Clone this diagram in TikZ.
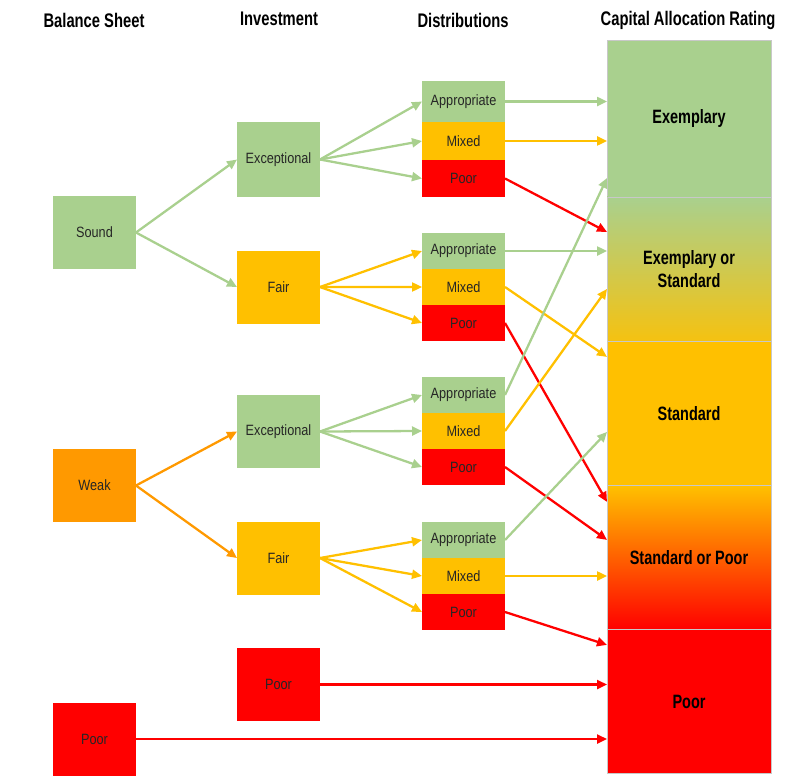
\documentclass[tikz,border=0pt]{standalone}
\usepackage{fontspec}
\setmainfont{Liberation Sans}
\newfontfamily\boxfont{Liberation Sans}[FakeStretch=0.85]
\newfontfamily\headfont{Liberation Sans}[FakeStretch=0.75]
\usetikzlibrary{arrows.meta,positioning}
\definecolor{cGreen}{HTML}{A9D08E}
\definecolor{cYellow}{HTML}{FFC000}
\definecolor{cOrange}{HTML}{FF9900}
\definecolor{cRed}{HTML}{FF0000}
\definecolor{cMid}{HTML}{FF5A00}
\definecolor{cText}{HTML}{262626}
\definecolor{cEdge}{HTML}{C8C8C8}

\begin{document}
\begin{tikzpicture}[x=0.02cm,y=-0.02cm,
  box/.style={inner sep=0pt,outer sep=0pt,minimum width=1.66cm,minimum height=1.46cm,font=\boxfont\fontsize{8.5}{10}\selectfont,text=cText},
  dist/.style={box,minimum height=0.72cm},
  rating/.style={draw=cEdge,line width=0.5pt,inner sep=0pt,outer sep=0pt,minimum width=3.28cm,minimum height=2.88cm,align=center,font=\headfont\bfseries\fontsize{11}{13}\selectfont},
  head/.style={font=\headfont\bfseries\fontsize{11.2}{13}\selectfont},
  arr/.style={-{Triangle[length=2mm,width=1.8mm]},line width=1.3pt},
  garr/.style={arr,cGreen},
  yarr/.style={arr,cYellow},
  oarr/.style={arr,cOrange},
  rarr/.style={arr,cRed}
]
\useasboundingbox (0,0) rectangle (797,782);
\node[head] (hbal) at (94,20) {Balance Sheet};
\node[head] (hinv) at (279,19) {Investment};
\node[head] (hdist) at (463,20) {Distributions};
\node[head] (hrat) at (688,20) {Capital Allocation Rating};
\node[box,fill=cGreen] (sound) at (94.5,232.5) {Sound};
\node[box,fill=cOrange] (weak) at (94.5,485.5) {Weak};
\node[box,fill=cRed] (bpoor) at (94.5,739) {Poor};
\node[box,fill=cGreen,minimum height=1.5cm] (exc1) at (278.5,159.5) {Exceptional};
\node[box,fill=cYellow] (fair1) at (278.5,287) {Fair};
\node[box,fill=cGreen] (exc2) at (278.5,431.5) {Exceptional};
\node[box,fill=cYellow] (fair2) at (278.5,558) {Fair};
\node[box,fill=cRed] (ipoor) at (278.5,684.5) {Poor};
\node[dist,fill=cGreen,anchor=north,minimum height=0.82cm] (app1) at (463.5,81) {Appropriate};
\node[dist,fill=cYellow,below=0pt of app1,minimum height=0.76cm] (mix1) {Mixed};
\node[dist,fill=cRed,below=0pt of mix1,minimum height=0.74cm] (poor1) {Poor};
\node[dist,fill=cGreen,anchor=north] (app2) at (463.5,233) {Appropriate};
\node[dist,fill=cYellow,below=0pt of app2] (mix2) {Mixed};
\node[dist,fill=cRed,below=0pt of mix2] (poor2) {Poor};
\node[dist,fill=cGreen,anchor=north] (app3) at (463.5,377) {Appropriate};
\node[dist,fill=cYellow,below=0pt of app3] (mix3) {Mixed};
\node[dist,fill=cRed,below=0pt of mix3] (poor3) {Poor};
\node[dist,fill=cGreen,anchor=north] (app4) at (463.5,522) {Appropriate};
\node[dist,fill=cYellow,below=0pt of app4] (mix4) {Mixed};
\node[dist,fill=cRed,below=0pt of mix4] (poor4) {Poor};
\node[rating,fill=cGreen,anchor=north,minimum height=3.14cm] (ex) at (689,40) {Exemplary};
\node[rating,top color=cGreen,bottom color=cYellow!88!cGreen,below=0pt of ex] (exs) {Exemplary or\\Standard};
\node[rating,fill=cYellow,below=0pt of exs,minimum height=2.9cm] (std) {Standard};
\node[rating,top color=cYellow,middle color=cMid,bottom color=cRed,below=0pt of std] (sop) {Standard or Poor};
\node[rating,fill=cRed,below=0pt of sop] (rpoor) {Poor};
\draw[garr] (sound.east) -- (exc1.west);
\draw[garr] (sound.east) -- (fair1.west);
\draw[oarr] (weak.east) -- (exc2.west);
\draw[oarr] (weak.east) -- (fair2.west);
\draw[garr] (exc1.east) -- (app1.west);
\draw[garr] (exc1.east) -- (mix1.west);
\draw[garr] (exc1.east) -- (poor1.west);
\draw[yarr] (fair1.east) -- (app2.west);
\draw[yarr] (fair1.east) -- (mix2.west);
\draw[yarr] (fair1.east) -- (poor2.west);
\draw[garr] (exc2.east) -- (app3.west);
\draw[garr] (exc2.east) -- (mix3.west);
\draw[garr] (exc2.east) -- (poor3.west);
\draw[yarr] (fair2.east) -- (app4.west);
\draw[yarr] (fair2.east) -- (mix4.west);
\draw[yarr] (fair2.east) -- (poor4.west);
\draw[garr] (app1.east) -- (ex.west |- app1);
\draw[yarr] (mix1.east) -- (ex.west |- mix1);
\draw[rarr] (poor1.east) -- ([yshift=-0.7cm]exs.north west);
\draw[garr] (app2.east) -- (exs.west |- app2);
\draw[yarr] (mix2.east) -- ([yshift=-0.32cm]std.north west);
\draw[rarr] (poor2.east) -- ([yshift=-0.32cm]sop.north west);
\draw[garr] (app3.east) -- ([yshift=0.38cm]ex.south west);
\draw[yarr] (mix3.east) -- ([yshift=-1.84cm]exs.north west);
\draw[rarr] (poor3.east) -- ([yshift=-1.08cm]sop.north west);
\draw[garr] (app4.east) -- ([yshift=-1.82cm]std.north west);
\draw[yarr] (mix4.east) -- (sop.west |- mix4);
\draw[rarr] (poor4.east) -- ([yshift=-0.3cm]rpoor.north west);
\draw[rarr] (ipoor.east) -- (rpoor.west |- ipoor);
\draw[rarr] (bpoor.east) -- (rpoor.west |- bpoor);
\end{tikzpicture}
\end{document}
